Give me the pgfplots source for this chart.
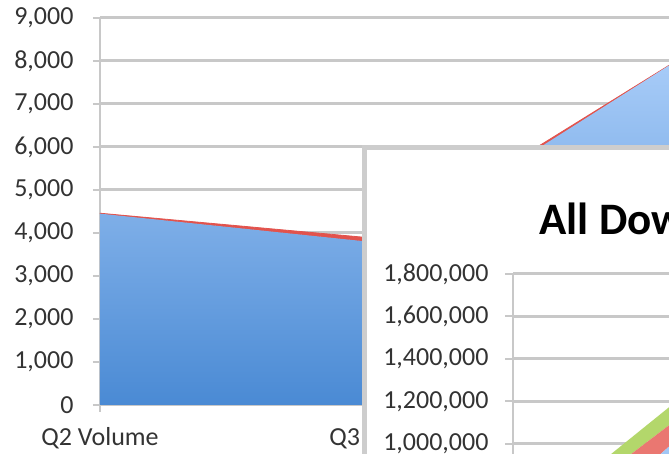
\documentclass[border=0pt]{standalone}
\usepackage{fontspec}
\setmainfont{Carlito}
\usepackage{pgfplots}
\pgfplotsset{compat=1.18}
\definecolor{gridgray}{HTML}{C8C8C8}
\definecolor{ticktext}{HTML}{333333}
\definecolor{areatop}{HTML}{A8CCF8}
\definecolor{areabot}{HTML}{4A8AD4}
\definecolor{volred}{HTML}{E2534D}
\definecolor{dlred}{HTML}{EA7771}
\definecolor{dlgreen}{HTML}{B3D76B}
\definecolor{boxgray}{HTML}{CDCDCD}

\pgfplotsset{
  officestyle/.style={
    scale only axis,
    anchor=south west,
    axis y line*=left,
    ymajorgrids,
    grid style={gridgray, line width=3pt},
    axis line style={gridgray, line width=2.5pt},
    tick style={gridgray, line width=2pt},
    tick align=outside,
    major tick length=8pt,
    ticklabel style={font=\fontsize{26}{26}\selectfont, text=ticktext},
    /pgf/number format/assume math mode=true,
    /pgf/number format/fixed,
    /pgf/number format/1000 sep={,},
  }
}

\begin{document}
\begin{tikzpicture}[x=1pt,y=1pt]
\useasboundingbox (0,0) rectangle (669,454);
\clip (0,0) rectangle (669,454);

% Quarterly volume (background chart)
\begin{axis}[officestyle,
  at={(100pt,49pt)}, width=576pt, height=387pt,
  xmin=0, xmax=2, ymin=0, ymax=9000,
  axis x line*=bottom,
  ytick={0,1000,...,9000},
  xtick={0,1,2},
  xticklabels={Q2 Volume, Q3 Volume, Q4 Volume},
  major tick length=7pt,
  yticklabel style={xshift=-16pt},
  xticklabel style={yshift=-12pt},
  stack plots=y,
]
\addplot[draw=none, top color=areatop, bottom color=areabot]
  coordinates {(0,4450) (1,3750) (2,8000)} \closedcycle;
\addplot[fill=volred, draw=volred, line width=0.8pt]
  coordinates {(0,10) (1,100) (2,0)} \closedcycle;
\end{axis}

% Downloads chart panel
\fill[white] (364,306) rectangle (720,-60);
\draw[boxgray, line width=5pt] (364,-60) -- (364,306) -- (720,306);
\node[anchor=base west, font=\bfseries\fontsize{45}{45}\selectfont, text=black]
  at (536,219) {All Downloads};

\begin{axis}[officestyle,
  at={(513pt,-202.5pt)}, width=170pt, height=382.5pt,
  xmin=0, xmax=1, ymin=0, ymax=1800000,
  ytick={0,200000,...,1800000},
  scaled y ticks=false,
  xtick=\empty,
  axis x line=none,
  yticklabel style={xshift=-13pt},
  stack plots=y,
]
\addplot[draw=none, top color=areatop, bottom color=areabot]
  coordinates {(0,330000) (1,1047000)} \closedcycle;
\addplot[fill=dlred, draw=none]
  coordinates {(0,200000) (1,91000)} \closedcycle;
\addplot[fill=dlgreen, draw=none]
  coordinates {(0,50000) (1,88000)} \closedcycle;
\end{axis}
\end{tikzpicture}
\end{document}
